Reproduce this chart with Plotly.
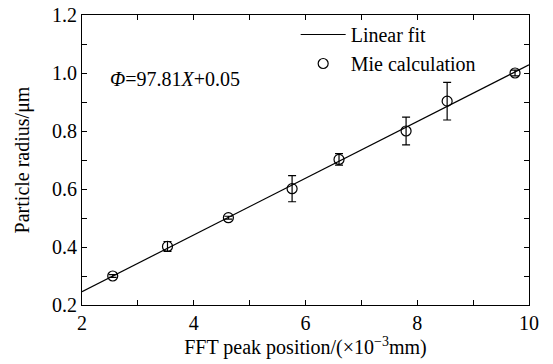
import plotly.graph_objects as go

# Mie calculation points
peak_pos = [2.55, 3.53, 4.62, 5.76, 6.60, 7.80, 8.535, 9.75]
radius = [0.300, 0.402, 0.501, 0.601, 0.702, 0.800, 0.903, 1.000]
radius_err = [0.005, 0.017, 0.005, 0.045, 0.02, 0.048, 0.065, 0.01]

# Linear fit endpoints (Φ = 97.81X + 0.05)
fit_x = [2.0, 10.0]
fit_y = [0.246, 1.028]

FONT = "Times New Roman, Liberation Serif, Times, serif"
FS = 20

fig = go.Figure()
fig.add_trace(go.Scatter(
    x=fit_x, y=fit_y, mode="lines", name="Linear fit",
    line=dict(color="black", width=1.2),
))
fig.add_trace(go.Scatter(
    x=peak_pos, y=radius, mode="markers", name="Mie calculation",
    marker=dict(symbol="circle-open", size=10, color="black", line=dict(width=1.2)),
    error_y=dict(type="data", array=radius_err, visible=True, color="black",
                 thickness=1.2, width=4),
))

fig.add_annotation(
    x=0.058, y=0.778, xref="paper", yref="paper", xanchor="left", yanchor="middle",
    text="<i>Φ</i>=97.81<i>X</i>+0.05", showarrow=False,
    font=dict(family=FONT, size=FS, color="black"),
)

axis_common = dict(
    showline=True, linecolor="black", linewidth=1.2, mirror="allticks",
    ticks="inside", ticklen=5, tickwidth=1.2, tickcolor="black",
    showgrid=False, zeroline=False, automargin=False,
    tickfont=dict(family=FONT, size=FS, color="black"),
)

fig.update_layout(
    width=553, height=364,
    margin=dict(l=82, r=24, t=15, b=59),
    plot_bgcolor="white", paper_bgcolor="white",
    font=dict(family=FONT, size=FS, color="black"),
    xaxis=dict(
        range=[2, 10], dtick=2, tick0=2,
        minor=dict(dtick=1, ticks="inside", ticklen=5, tickwidth=1.2, tickcolor="black"),
        title=dict(text="FFT peak position/(×10<sup>−3</sup>mm)", standoff=2,
                   font=dict(family=FONT, size=FS)),
        **axis_common,
    ),
    yaxis=dict(
        range=[0.2, 1.2], dtick=0.2, tick0=0.2, tickformat=".1f",
        minor=dict(dtick=0.1, ticks="inside", ticklen=5, tickwidth=1.2, tickcolor="black"),
        title=dict(text="Particle radius/μm", standoff=16,
                   font=dict(family=FONT, size=FS)),
        **axis_common,
    ),
    legend=dict(
        x=0.478, y=1.0, xanchor="left", yanchor="top",
        bgcolor="rgba(0,0,0,0)", font=dict(family=FONT, size=FS),
        itemwidth=45, tracegroupgap=0,
    ),
    showlegend=True,
)

fig.write_html("out.html")
